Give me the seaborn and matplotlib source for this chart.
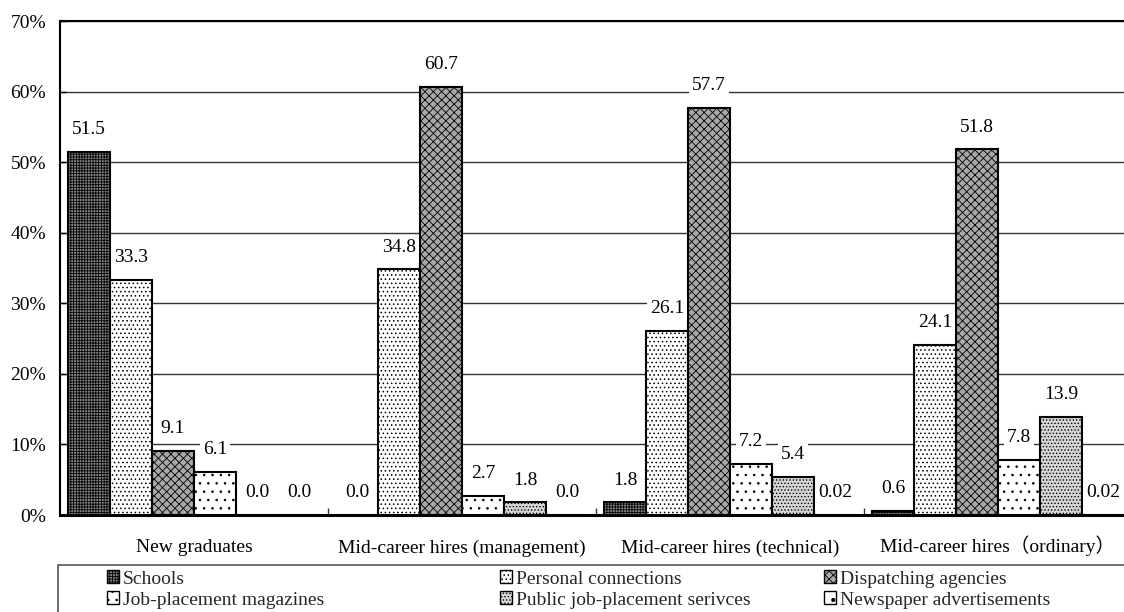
import matplotlib
matplotlib.use("Agg")
import matplotlib.pyplot as plt
import matplotlib.patches as mpatches
from matplotlib.ticker import FixedLocator, FuncFormatter
import pandas as pd
import seaborn as sns

# Hiring channels by type of recruit (share of respondents, %)
categories = [
    "New graduates",
    "Mid-career hires (management)",
    "Mid-career hires (technical)",
    "Mid-career hires\uff08ordinary\uff09",
]
sources = [
    "Schools",
    "Personal connections",
    "Dispatching agencies",
    "Job-placement magazines",
    "Public job-placement serivces",
    "Newspaper advertisements",
]
schools = [51.5, 0.0, 1.8, 0.6]
personal_connections = [33.3, 34.8, 26.1, 24.1]
dispatching_agencies = [9.1, 60.7, 57.7, 51.8]
job_magazines = [6.1, 2.7, 7.2, 7.8]
public_services = [0.0, 1.8, 5.4, 13.9]
newspaper_ads = [0.0, 0.0, 0.02, 0.02]
y_ticks = [0, 10, 20, 30, 40, 50, 60, 70]

series = [schools, personal_connections, dispatching_agencies,
          job_magazines, public_services, newspaper_ads]
df = pd.DataFrame(
    [(c, s, v) for s, vals in zip(sources, series) for c, v in zip(categories, vals)],
    columns=["category", "source", "value"],
)

faces = ["#868686", "#ffffff", "#a8a8a8", "#ffffff", "#d6d6d6", "#ffffff"]
hatches = ["++++++", "....", "xxxx", "..", ".....", "."]

sns.set_theme(style="white")
plt.rcParams["font.family"] = ["Liberation Serif", "Noto Sans CJK JP"]
plt.rcParams["hatch.linewidth"] = 0.6
FS = 14

fig = plt.figure(figsize=(11.24, 6.12), dpi=100)
W, H = 1124, 612
ax = fig.add_axes([60 / W, 97 / H, 1072 / W, 494 / H])

sns.barplot(
    data=df, x="category", y="value", hue="source",
    order=categories, hue_order=sources, palette=faces, saturation=1,
    width=0.94, edgecolor="black", linewidth=1.5, legend=False, ax=ax,
    zorder=3,
)

for cont, hatch in zip(ax.containers, hatches):
    for bar in cont:
        bar.set_hatch(hatch)
        bar.set_edgecolor("black")


def fmt(v):
    return f"{v:.2f}" if 0 < v < 0.05 else f"{v:.1f}"


for cont, vals in zip(ax.containers, series):
    for bar, v in zip(cont, vals):
        ax.annotate(
            fmt(v), xy=(bar.get_x() + bar.get_width() / 2, bar.get_height()),
            xytext=(0, 16), textcoords="offset points", ha="center", va="center",
            fontsize=FS, color="black", zorder=5,
            bbox=dict(boxstyle="square,pad=0.15", fc="white", ec="none"),
        )

ax.set_xlim(-0.5, 3.5)
ax.set_ylim(0, 70)
ax.yaxis.set_major_locator(FixedLocator(y_ticks))
ax.yaxis.set_major_formatter(FuncFormatter(lambda v, p: f"{v:.0f}%"))
ax.grid(axis="y", color="#333333", linewidth=1.0, zorder=0)
ax.set_axisbelow(True)
ax.set_xlabel("")
ax.set_ylabel("")

ax.tick_params(axis="y", direction="in", length=4, width=1, pad=10,
               labelsize=FS, colors="black", left=True)
ax.tick_params(axis="x", which="major", length=0, pad=27, labelsize=FS,
               colors="black")
for lab in ax.get_xticklabels():
    lab.set_verticalalignment("baseline")
ax.xaxis.set_minor_locator(FixedLocator([0.5, 1.5, 2.5]))
ax.tick_params(axis="x", which="minor", direction="in", length=5, width=1,
               color="#333333", bottom=True)

for side in ["top", "left", "bottom", "right"]:
    ax.spines[side].set_visible(True)
    ax.spines[side].set_color("black")
ax.spines["top"].set_linewidth(1.5)
ax.spines["left"].set_linewidth(1.5)
ax.spines["bottom"].set_linewidth(2.2)

# Legend box along the bottom edge
fig.patches.append(mpatches.Rectangle(
    (58 / W, -0.05), 1.1, (612 - 565) / H + 0.05, transform=fig.transFigure,
    fill=False, edgecolor="#555555", linewidth=1.2, zorder=1))


def handle(i):
    return mpatches.Patch(facecolor=faces[i], edgecolor="black",
                          hatch=hatches[i], linewidth=1.0)


for x0, idx in [(107, (0, 3)), (500, (1, 4)), (824, (2, 5))]:
    fig.legend(
        [handle(i) for i in idx], [sources[i] for i in idx],
        loc="center left", bbox_to_anchor=(x0 / W, 22.5 / H),
        frameon=False, fontsize=FS, handlelength=0.62, handleheight=0.62,
        handletextpad=0.2, labelspacing=0.2, borderpad=0, borderaxespad=0,
    )

fig.savefig("out.png", dpi=100)
